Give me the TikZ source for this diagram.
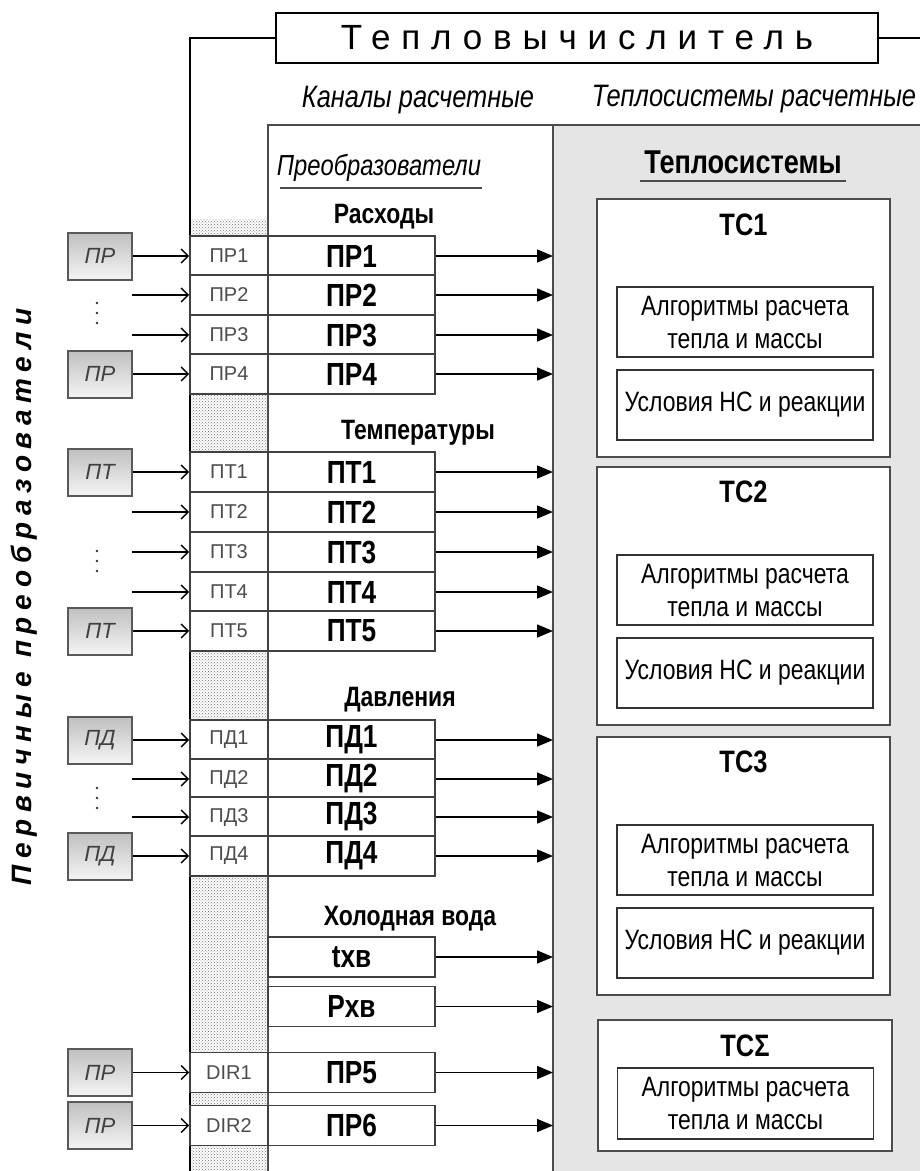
\documentclass[tikz,border=0pt]{standalone}
\usepackage{fontspec}
\setmainfont{Liberation Sans}
\newfontfamily\narrowfont{Liberation Sans}[FakeStretch=0.82]
\newfontfamily\spacedfont{Liberation Sans}[LetterSpace=31]
\newfontfamily\vlabelfont{Liberation Sans}[LetterSpace=24]
\usetikzlibrary{arrows.meta, positioning, patterns}

\tikzset{
  frame/.style={line width=2.5pt, black},
  titlebox/.style={draw, line width=2.5pt, fill=white, minimum width=602pt, minimum height=50pt,
    inner sep=0pt, font=\spacedfont\fontsize{35}{35}\selectfont},
  chan/.style={draw=black!75, line width=1.6pt, fill=white, minimum width=78pt, minimum height=40pt,
    inner sep=0pt, text=black!70, font=\fontsize{20}{20}\selectfont},
  conv/.style={draw=black!75, line width=1.6pt, fill=white, minimum width=167pt, minimum height=40pt,
    inner sep=0pt, font=\narrowfont\bfseries\fontsize{32}{32}\selectfont},
  sensor/.style={draw=black!65, line width=2pt, top color=black!25, bottom color=black!4,
    minimum width=64pt, minimum height=47pt, inner sep=0pt, text=black!75,
    font=\itshape\fontsize{22}{22}\selectfont},
  sysbox/.style={draw=black!70, line width=2pt, fill=white, minimum width=293pt, inner sep=0pt},
  algbox/.style={draw=black!80, line width=1.6pt, fill=white, minimum width=256pt, inner sep=0pt,
    align=center, font=\narrowfont\fontsize{28}{33}\selectfont},
  systitle/.style={anchor=base, font=\narrowfont\bfseries\fontsize{31}{31}\selectfont},
  grouphead/.style={anchor=base, font=\narrowfont\bfseries\fontsize{28}{28}\selectfont},
  colhead/.style={anchor=base, font=\narrowfont\itshape\fontsize{31}{31}\selectfont},
  inarr/.style={line width=1.4pt, -{Straight Barb[length=7pt,width=14pt]}},
  outarr/.style={line width=1.5pt, -{Triangle[length=16pt,width=13pt]}}
}

\begin{document}
\begin{tikzpicture}[x=1pt, y=-1pt]
  \useasboundingbox (0,0) rectangle (920,1171);
  \fill[white] (0,0) rectangle (920,1171);

  % поля
  \draw[line width=1.6pt, draw=black!70, fill=black!10] (553,125) rectangle (930,1180);
  \draw[line width=1.6pt, draw=black!70, fill=white] (268,125) rectangle (553,1180);
  \fill[pattern=crosshatch dots, pattern color=black!55] (190,219) rectangle (268,1171);

  \node[titlebox] (title) at (577,38) {Тепловычислитель};
  \coordinate (corner) at (190,38);
  \coordinate (cbot) at (190,1171);
  \coordinate (rend) at (920,38);
  \draw[frame] (title.west) -- (corner) -- (cbot);
  \draw[frame] (title.east) -- (rend);

  \node[colhead] (hkan) at (418,107) {Каналы расчетные};
  \node[colhead] (hsys) at (754,106) {Теплосистемы расчетные};

  \node[anchor=base, font=\narrowfont\itshape\fontsize{29}{29}\selectfont] (hconv) at (379,175) {Преобразователи};
  \draw[line width=1.5pt, black!70] (280,188) -- (482,188);
  \node[anchor=base, font=\narrowfont\bfseries\fontsize{33}{33}\selectfont] (hts) at (743,173) {Теплосистемы};
  \draw[line width=1.5pt, black!70] (640,181) -- (846,181);

  \node[rotate=90, font=\vlabelfont\bfseries\itshape\fontsize{28}{28}\selectfont] (vlab) at (24,597) {Первичные преобразователи};

  \coordinate (insrc) at (132,0);
  \coordinate (sysedge) at (553,0);

  % Расходы
  \node[grouphead] (gPR) at (384,223) {Расходы};
  \node[chan] (chPR1) at (229,256) {ПР1};  \node[conv] (cvPR1) at (351.5,256) {ПР1};
  \node[chan] (chPR2) at (229,295) {ПР2};  \node[conv] (cvPR2) at (351.5,295) {ПР2};
  \node[chan] (chPR3) at (229,335) {ПР3};  \node[conv] (cvPR3) at (351.5,335) {ПР3};
  \node[chan] (chPR4) at (229,374) {ПР4};  \node[conv] (cvPR4) at (351.5,374) {ПР4};
  \node[sensor] (snPR1) at (100,256) {ПР};
  \node[sensor] (snPR4) at (100,374) {ПР};
  \fill[black!80] (97,303) circle (1.4pt) (97,313) circle (1.4pt) (97,323) circle (1.4pt);
  \draw[inarr] (snPR1) -- (chPR1);
  \draw[inarr] (chPR2.west -| insrc) -- (chPR2.west);
  \draw[inarr] (chPR3.west -| insrc) -- (chPR3.west);
  \draw[inarr] (snPR4) -- (chPR4);

  % Температуры
  \node[grouphead] (gPT) at (418,439) {Температуры};
  \node[chan] (chPT1) at (229,472) {ПТ1};  \node[conv] (cvPT1) at (351.5,472) {ПТ1};
  \node[chan] (chPT2) at (229,512) {ПТ2};  \node[conv] (cvPT2) at (351.5,512) {ПТ2};
  \node[chan] (chPT3) at (229,552) {ПТ3};  \node[conv] (cvPT3) at (351.5,552) {ПТ3};
  \node[chan] (chPT4) at (229,592) {ПТ4};  \node[conv] (cvPT4) at (351.5,592) {ПТ4};
  \node[chan] (chPT5) at (229,631) {ПТ5};  \node[conv] (cvPT5) at (351.5,631) {ПТ5};
  \node[sensor] (snPT1) at (100,472) {ПТ};
  \node[sensor] (snPT5) at (100,631) {ПТ};
  \fill[black!80] (97,551) circle (1.4pt) (97,561) circle (1.4pt) (97,571) circle (1.4pt);
  \draw[inarr] (snPT1) -- (chPT1);
  \draw[inarr] (chPT2.west -| insrc) -- (chPT2.west);
  \draw[inarr] (chPT3.west -| insrc) -- (chPT3.west);
  \draw[inarr] (chPT4.west -| insrc) -- (chPT4.west);
  \draw[inarr] (snPT5) -- (chPT5);

  % Давления
  \node[grouphead] (gPD) at (400,706) {Давления};
  \node[chan] (chPD1) at (229,740) {ПД1};  \node[conv] (cvPD1) at (351.5,740) {ПД1};
  \node[chan] (chPD2) at (229,779) {ПД2};  \node[conv] (cvPD2) at (351.5,779) {ПД2};
  \node[chan] (chPD3) at (229,817) {ПД3};  \node[conv] (cvPD3) at (351.5,817) {ПД3};
  \node[chan] (chPD4) at (229,856) {ПД4};  \node[conv] (cvPD4) at (351.5,856) {ПД4};
  \node[sensor] (snPD1) at (100,740) {ПД};
  \node[sensor] (snPD4) at (100,856) {ПД};
  \fill[black!80] (97,788) circle (1.4pt) (97,798) circle (1.4pt) (97,808) circle (1.4pt);
  \draw[inarr] (snPD1) -- (chPD1);
  \draw[inarr] (chPD2.west -| insrc) -- (chPD2.west);
  \draw[inarr] (chPD3.west -| insrc) -- (chPD3.west);
  \draw[inarr] (snPD4) -- (chPD4);

  % Холодная вода
  \node[grouphead] (gCW) at (410,925) {Холодная вода};
  \node[conv] (cvTX) at (351.5,957) {tхв};
  \node[conv] (cvPX) at (351.5,1006.5) {Рхв};

  % DIR
  \node[chan] (chDIR1) at (229,1072.5) {DIR1};  \node[conv] (cvPR5) at (351.5,1072.5) {ПР5};
  \node[chan] (chDIR2) at (229,1125.5) {DIR2};  \node[conv] (cvPR6) at (351.5,1125.5) {ПР6};
  \node[sensor] (snDIR1) at (100,1072.5) {ПР};
  \node[sensor] (snDIR2) at (100,1125.5) {ПР};
  \draw[inarr] (snDIR1) -- (chDIR1);
  \draw[inarr] (snDIR2) -- (chDIR2);

  % выходы
  \draw[outarr] (cvPR1.east) -- (cvPR1.east -| sysedge);
  \draw[outarr] (cvPR2.east) -- (cvPR2.east -| sysedge);
  \draw[outarr] (cvPR3.east) -- (cvPR3.east -| sysedge);
  \draw[outarr] (cvPR4.east) -- (cvPR4.east -| sysedge);
  \draw[outarr] (cvPT1.east) -- (cvPT1.east -| sysedge);
  \draw[outarr] (cvPT2.east) -- (cvPT2.east -| sysedge);
  \draw[outarr] (cvPT3.east) -- (cvPT3.east -| sysedge);
  \draw[outarr] (cvPT4.east) -- (cvPT4.east -| sysedge);
  \draw[outarr] (cvPT5.east) -- (cvPT5.east -| sysedge);
  \draw[outarr] (cvPD1.east) -- (cvPD1.east -| sysedge);
  \draw[outarr] (cvPD2.east) -- (cvPD2.east -| sysedge);
  \draw[outarr] (cvPD3.east) -- (cvPD3.east -| sysedge);
  \draw[outarr] (cvPD4.east) -- (cvPD4.east -| sysedge);
  \draw[outarr] (cvTX.east) -- (cvTX.east -| sysedge);
  \draw[outarr] (cvPX.east) -- (cvPX.east -| sysedge);
  \draw[outarr] (cvPR5.east) -- (cvPR5.east -| sysedge);
  \draw[outarr] (cvPR6.east) -- (cvPR6.east -| sysedge);

  % Теплосистемы
  \node[sysbox, minimum height=258pt] (ts1) at (743.5,328) {};
  \node[systitle] (tt1) at (743.5,235) {ТС1};
  \node[algbox, minimum height=70pt] (al1) at (745,322) {Алгоритмы расчета\\тепла и массы};
  \node[algbox, minimum height=70pt] (us1) at (745,405) {Условия НС и реакции};

  \node[sysbox, minimum height=258pt] (ts2) at (743.5,596) {};
  \node[systitle] (tt2) at (743.5,502) {ТС2};
  \node[algbox, minimum height=70pt] (al2) at (745,590) {Алгоритмы расчета\\тепла и массы};
  \node[algbox, minimum height=70pt] (us2) at (745,673) {Условия НС и реакции};

  \node[sysbox, minimum height=258pt] (ts3) at (743.5,866) {};
  \node[systitle] (tt3) at (743.5,772) {ТС3};
  \node[algbox, minimum height=70pt] (al3) at (745,860) {Алгоритмы расчета\\тепла и массы};
  \node[algbox, minimum height=70pt] (us3) at (745,943) {Условия НС и реакции};

  \node[sysbox, minimum width=294pt, minimum height=131pt] (tsS) at (745,1085.5) {};
  \node[systitle] (ttS) at (745,1056) {ТСΣ};
  \node[algbox, minimum height=71pt] (alS) at (745.5,1103.5) {Алгоритмы расчета\\тепла и массы};
\end{tikzpicture}
\end{document}
